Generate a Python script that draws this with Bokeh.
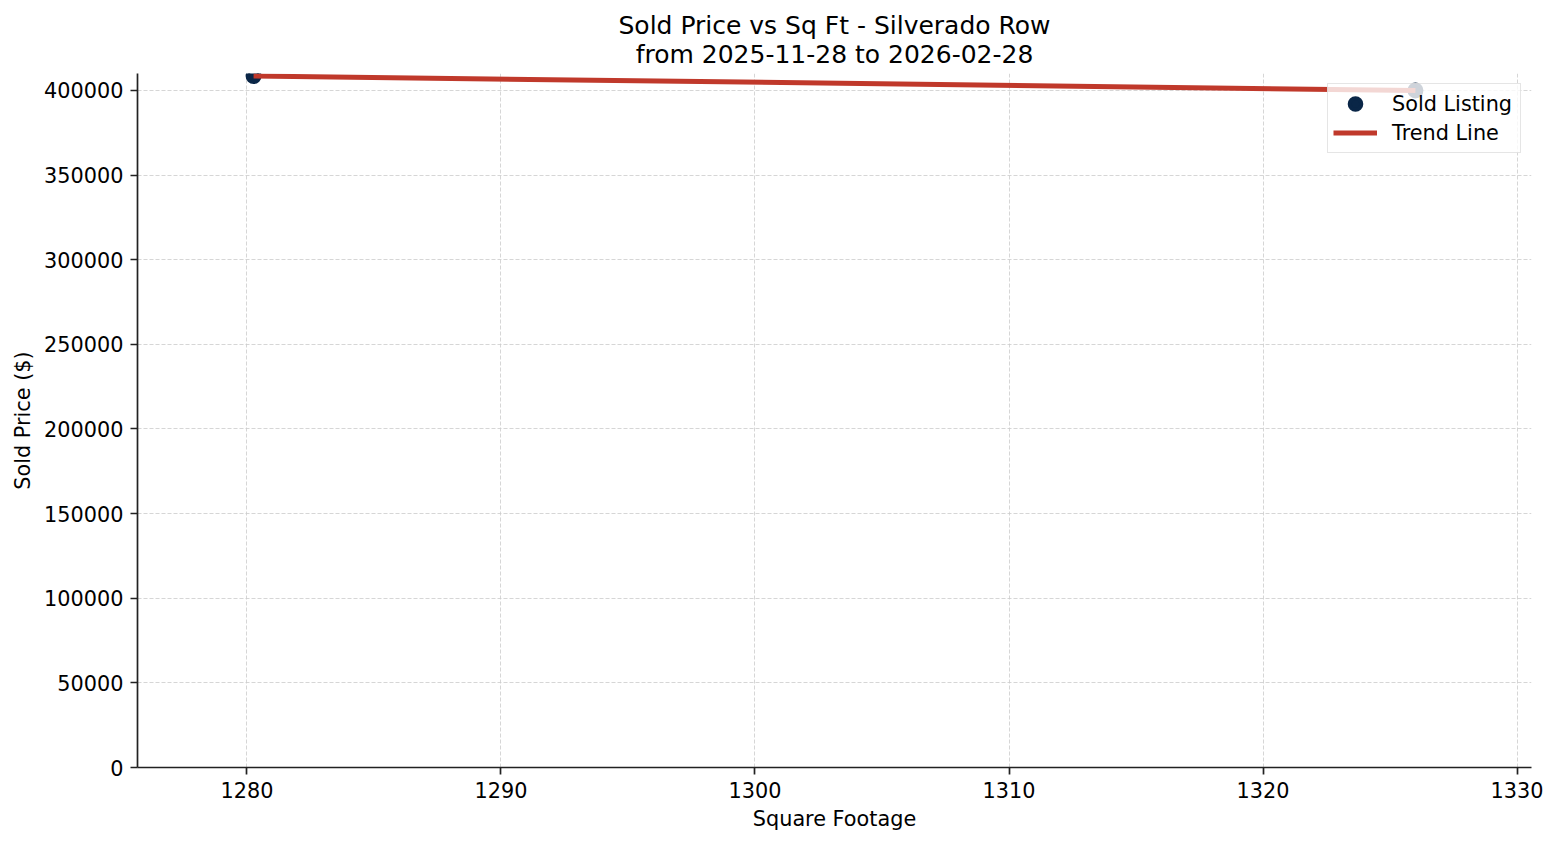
from bokeh.plotting import figure
from bokeh.models import (ColumnDataSource, Range1d, FixedTicker, NumeralTickFormatter,
                          Legend, LegendItem, LinearAxis)
from bokeh.embed import file_html
from bokeh.resources import INLINE

# ---- data ----
sqft = [1280.26, 1326.0]
sold_price = [408500, 400000]
trend_x = [1280.26, 1326.0]
trend_y = [408500, 400000]
x_ticks = [1280, 1290, 1300, 1310, 1320, 1330]
y_ticks = [0, 50000, 100000, 150000, 200000, 250000, 300000, 350000, 400000]
title_line1 = "Sold Price vs Sq Ft - Silverado Row"
title_line2 = "from 2025-11-28 to 2026-02-28"

FONT = "DejaVu Sans"

p = figure(frame_width=1394, frame_height=694,
           min_border_left=137, min_border_right=12, min_border_top=73, min_border_bottom=62,
           x_range=Range1d(1275.69, 1330.57), y_range=Range1d(0, 410000),
           output_backend="svg", toolbar_location=None,
           background_fill_color="white", border_fill_color="white")
p.outline_line_color = None

xax = p.below[0]
yax = p.left[0]

# axes
for ax in (xax, yax):
    ax.axis_line_width = 1.7
    ax.axis_line_color = "#222222"
    ax.major_tick_line_width = 1.7
    ax.major_tick_line_color = "#222222"
    ax.major_tick_out = 7
    ax.major_tick_in = 0
    ax.minor_tick_line_color = None
    ax.major_label_standoff = 7
    ax.major_label_text_font = FONT
    ax.major_label_text_font_size = "20.8px"
    ax.major_label_text_color = "black"
    ax.axis_label_text_font = FONT
    ax.axis_label_text_font_size = "20.8px"
    ax.axis_label_text_font_style = "normal"
    ax.axis_label_text_color = "black"

xax.ticker = FixedTicker(ticks=x_ticks)
yax.ticker = FixedTicker(ticks=y_ticks)
yax.formatter = NumeralTickFormatter(format="0")
xax.formatter = NumeralTickFormatter(format="0")
xax.axis_label = "Square Footage"
yax.axis_label = "Sold Price ($)"
xax.axis_label_standoff = 6
yax.axis_label_standoff = 6


# two-line centred title, drawn as the labels of two bare axes above the plot
def title_axis(text, standoff):
    ax = LinearAxis(ticker=FixedTicker(ticks=[]), axis_label=text)
    ax.axis_line_color = None
    ax.major_tick_line_color = None
    ax.minor_tick_line_color = None
    ax.major_tick_out = 0
    ax.major_tick_in = 0
    ax.major_label_standoff = 0
    ax.major_label_text_font_size = "0px"
    ax.axis_label_standoff = standoff
    ax.axis_label_text_font = FONT
    ax.axis_label_text_font_size = "25px"
    ax.axis_label_text_font_style = "normal"
    ax.axis_label_text_color = "black"
    return ax

p.add_layout(title_axis(title_line2, 5), "above")
p.add_layout(title_axis(title_line1, -3), "above")

# glyphs
src_pts = ColumnDataSource(dict(x=sqft, y=sold_price))
src_line = ColumnDataSource(dict(x=trend_x, y=trend_y))
r_pts = p.scatter("x", "y", source=src_pts, size=12, color="#0a2647",
                  line_color="#0a2647", line_width=4)
r_line = p.line("x", "y", source=src_line, line_width=5, line_color="#c0392b")

# grid
for g in (p.xgrid[0], p.ygrid[0]):
    g.grid_line_color = "#cccccc"
    g.grid_line_alpha = 0.8
    g.grid_line_dash = "4 2"
    g.grid_line_width = 1

# legend
legend = Legend(items=[LegendItem(label="Sold Listing", renderers=[r_pts]),
                       LegendItem(label="Trend Line", renderers=[r_line])],
                location="top_right")
legend.margin = 10
legend.padding = 5
legend.spacing = 0
legend.glyph_width = 44
legend.glyph_height = 29
legend.label_height = 29
legend.label_width = 123
legend.label_standoff = 15
legend.label_text_font = FONT
legend.label_text_font_size = "20.8px"
legend.label_text_color = "black"
legend.border_line_color = "#cccccc"
legend.border_line_width = 1.5
legend.background_fill_color = "white"
legend.background_fill_alpha = 0.8
p.add_layout(legend)

open("out.html", "w").write(file_html(p, INLINE))
